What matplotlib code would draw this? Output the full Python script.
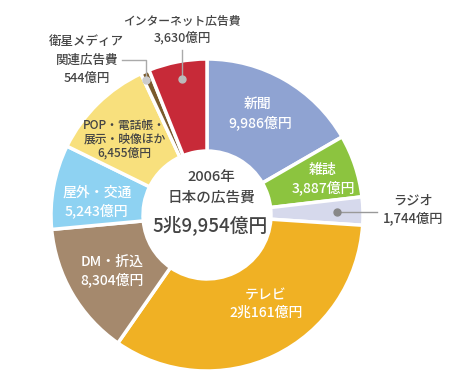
import matplotlib
matplotlib.use("Agg")
import matplotlib.pyplot as plt

plt.rcParams['font.family'] = ['Noto Sans CJK JP', 'DejaVu Sans']

categories = ["新聞", "雑誌", "ラジオ", "テレビ", "DM・折込", "屋外・交通",
              "POP・電話帳・展示・映像ほか", "衛星メディア関連広告費", "インターネット広告費"]
values = [9986, 3887, 1744, 20161, 8304, 5243, 6455, 544, 3630]
value_labels = ["9,986億円", "3,887億円", "1,744億円", "2兆161億円", "8,304億円",
                "5,243億円", "6,455億円", "544億円", "3,630億円"]
colors = ["#8FA3D2", "#8CC43F", "#D6D9EC", "#F0B124", "#A5896D",
          "#8ED2F2", "#F8E07D", "#7A5A2C", "#C72A38"]

W, H = 450, 380
fig = plt.figure(figsize=(4.5, 3.8), dpi=100)
ax = fig.add_axes([0, 0, 1, 1])

def Y(y):
    return H - y

cx, cy, R = 207, 215, 156
ax.pie(values, colors=colors, startangle=90, counterclock=False,
       center=(cx, Y(cy)), radius=R,
       wedgeprops=dict(width=R * 0.59, edgecolor='white', linewidth=2.5),
       frame=True)
ax.set_xlim(0, W)
ax.set_ylim(0, H)
ax.set_aspect('equal')
ax.axis('off')

dark = "#444444"

def lbl(x, y, s, color='white', size=10):
    ax.text(x, Y(y), s, ha='center', va='center', color=color, fontsize=size,
            fontweight='medium')

lbl(258, 104, categories[0])
lbl(260, 123, value_labels[0])
lbl(323, 170, categories[1])
lbl(323, 188, value_labels[1])
lbl(413, 200, categories[2], dark, 9.5)
lbl(413, 218, value_labels[2], dark, 9.5)
lbl(266, 295, categories[3])
lbl(266, 313, value_labels[3])
lbl(112, 262, categories[4])
lbl(112, 280, value_labels[4])
lbl(97, 193, categories[5])
lbl(96, 211, value_labels[5])
lbl(124, 125, "POP・電話帳・", dark, 8.5)
lbl(125, 139, "展示・映像ほか", dark, 8.5)
lbl(124, 153, value_labels[6], dark, 8.5)
lbl(86, 42, "衛星メディア", dark, 9)
lbl(87, 60, "関連広告費", dark, 9)
lbl(87, 78, value_labels[7], dark, 9)
lbl(182, 21, categories[8], dark, 8.5)
lbl(182, 38, value_labels[8], dark, 9)

# leader lines
ax.plot([337, 377], [Y(212), Y(212)], color="#999999", lw=1, zorder=3)
ax.plot(337, Y(212), 'o', color="#888888", ms=5, zorder=4)
ax.plot([146, 146, 122], [Y(80), Y(60), Y(60)], color="#aaaaaa", lw=1, zorder=3)
ax.plot(146, Y(80), 'o', color="#cccccc", ms=5, zorder=4)
ax.plot([182, 182], [Y(79), Y(50)], color="#aaaaaa", lw=1, zorder=3)
ax.plot(182, Y(79), 'o', color="#bbbbbb", ms=5, zorder=4)

# center text
lbl(211, 177, "2006年", dark, 10.5)
lbl(211, 198, "日本の広告費", dark, 10.5)
lbl(210, 225, "5兆9,954億円", dark, 13.5)

fig.savefig("out.png", dpi=100)
